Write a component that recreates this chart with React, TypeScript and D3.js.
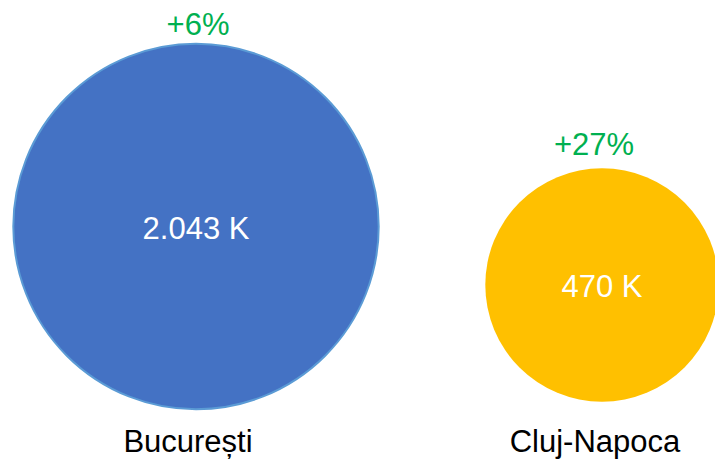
import React from "react";
import * as d3 from "d3";

const cities = ["București", "Cluj-Napoca"];
const values = [2043, 470];
const valueLabels = ["2.043 K", "470 K"];
const changes = ["+6%", "+27%"];
const fills = ["#4472C4", "#FFC000"];
const strokes = ["#5B9BD5", "none"];

// layout tweaks (pixels) per bubble
const topLabelDx = [2, -8];
const topLabelGap = [9, 13];
const nameDx = [-8, -7];

const W = 715;
const H = 460;

export default function App() {
  const x = d3.scalePoint<string>().domain(cities).range([196, 602]);
  const r = d3.scaleLinear().domain([470, 2043]).range([116.7, 182.7]);
  const cy = d3.scaleLinear().domain([470, 2043]).range([285, 226.5]);
  const font = "'Liberation Sans', Arial, sans-serif";

  return (
    <svg
      width={W}
      height={H}
      style={{ position: "fixed", left: 0, top: 0, background: "#fff" }}
      fontFamily={font}
    >
      {cities.map((c, i) => {
        const cx = x(c)!;
        const rr = r(values[i]);
        const yy = cy(values[i]);
        return (
          <g key={c}>
            <circle
              cx={cx}
              cy={yy}
              r={rr}
              fill={fills[i]}
              stroke={strokes[i]}
              strokeWidth={2}
            />
            <text
              x={cx}
              y={yy + 12}
              textAnchor="middle"
              fill="#fff"
              fontSize={31}
            >
              {valueLabels[i]}
            </text>
            <text
              x={cx + topLabelDx[i]}
              y={yy - rr - topLabelGap[i]}
              textAnchor="middle"
              fill="#00B050"
              fontSize={31}
            >
              {changes[i]}
            </text>
            <text
              x={cx + nameDx[i]}
              y={452}
              textAnchor="middle"
              fill="#000"
              fontSize={31}
            >
              {c}
            </text>
          </g>
        );
      })}
    </svg>
  );
}
